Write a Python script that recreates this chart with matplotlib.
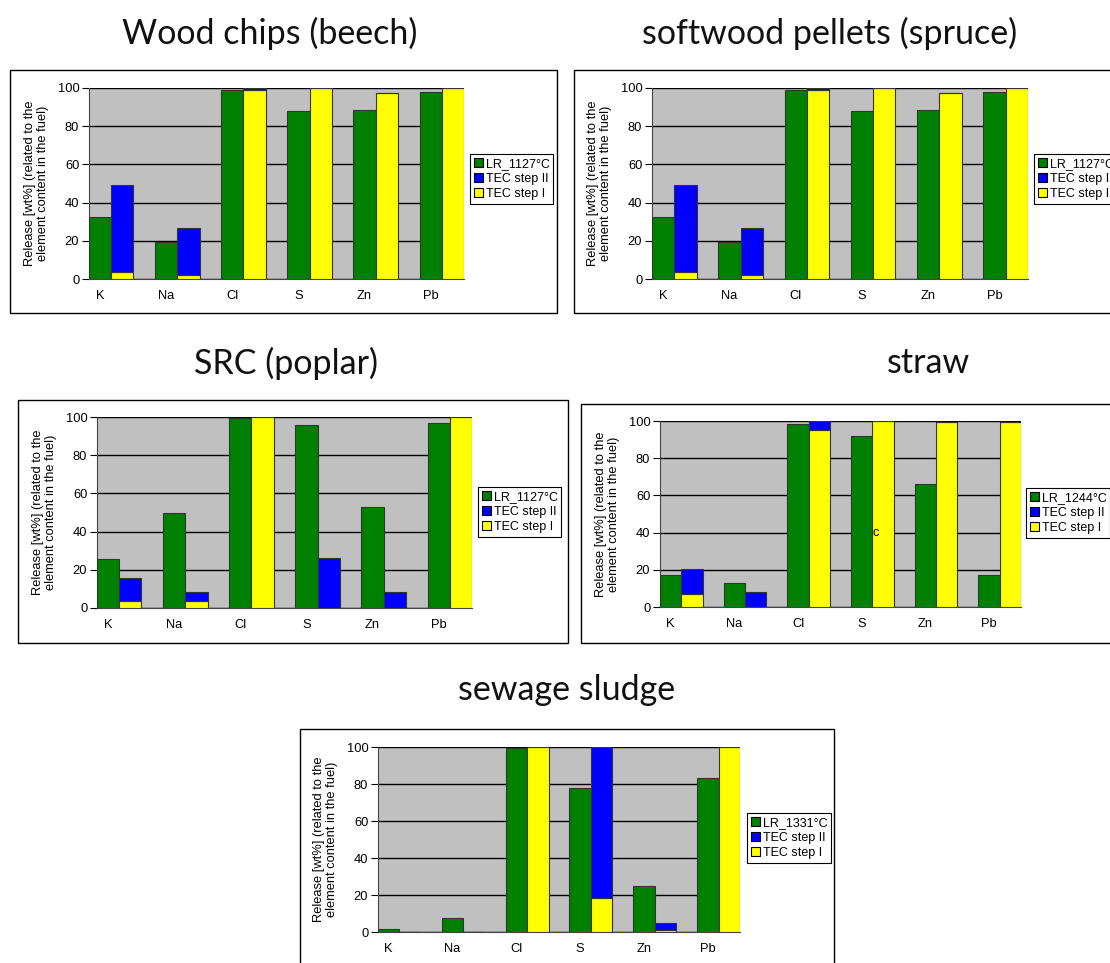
import numpy as np
import matplotlib.pyplot as plt
from matplotlib.patches import Rectangle, Patch

# categories
elements = ['K', 'Na', 'Cl', 'S', 'Zn', 'Pb']

# Wood chips (beech) / softwood pellets (spruce): same values in the picture
wood_lr = [32.5, 19.5, 99.0, 88.0, 88.3, 97.8]
wood_step1 = [3.5, 2.2, 99.2, 100.0, 97.3, 100.0]
wood_total = [49.0, 26.5, 99.8, 100.0, 97.3, 100.0]

# SRC (poplar)
src_lr = [25.5, 50.0, 99.3, 96.0, 52.7, 96.7]
src_step1 = [3.8, 3.5, 100.0, 0.0, 0.0, 100.0]
src_total = [15.5, 8.2, 100.0, 26.3, 8.2, 100.0]

# straw
straw_lr = [17.0, 13.0, 98.2, 92.0, 66.0, 17.2]
straw_step1 = [7.0, 0.0, 95.0, 100.0, 99.6, 99.6]
straw_total = [20.3, 8.0, 100.0, 100.0, 99.6, 99.6]

# sewage sludge
sludge_lr = [1.8, 7.8, 99.7, 78.0, 25.0, 83.5]
sludge_step1 = [0.0, 0.0, 100.0, 18.5, 1.0, 100.0]
sludge_total = [0.0, 0.0, 100.0, 100.0, 5.0, 100.0]

W, H = 1110, 963
fig = plt.figure(figsize=(W / 100, H / 100), dpi=100)
fig.patch.set_facecolor('white')

GREEN = '#008000'
BLUE = '#0000FF'
YELLOW = '#FFFF00'
EDGE = '#333333'
TICKFONT = 'Liberation Sans'
FS = 9.3


def frac(l, t, r, b):
    return [l / W, 1 - b / H, (r - l) / W, (b - t) / H]


def panel(title, tcenter, box, plot, leg, lr_label, lr, step1, total, extra=None):
    # outer frame of the chart object
    l, t, r, b = box
    fig.add_artist(Rectangle((l / W, 1 - b / H), (r - l) / W, (b - t) / H,
                             transform=fig.transFigure, fill=False,
                             edgecolor='black', lw=1.0))
    fig.text(tcenter[0] / W, 1 - tcenter[1] / H, title, ha='center', va='center',
             fontsize=24.5, family='Lato', color='#111111')

    ax = fig.add_axes(frac(*plot))
    ax.set_facecolor('#C0C0C0')
    x = np.arange(len(elements))
    w = 0.336
    step2 = np.array(total) - np.array(step1)
    ax.bar(x, lr, w, color=GREEN, edgecolor=EDGE, lw=0.8, zorder=3)
    ax.bar(x + w, step1, w, color=YELLOW, edgecolor=EDGE, lw=0.8, zorder=3)
    ax.bar(x + w, step2, w, bottom=step1, color=BLUE, edgecolor=EDGE, lw=0.8, zorder=3)

    ax.set_xlim(-w / 2, len(elements) - 1 + 1.5 * w)
    ax.set_ylim(0, 100)
    ax.set_yticks([0, 20, 40, 60, 80, 100])
    ax.yaxis.grid(True, color='black', lw=1.0, zorder=1)
    ax.set_axisbelow(True)
    ax.set_xticks(x)
    ax.set_xticklabels(elements, family=TICKFONT, fontsize=FS)
    ax.tick_params(axis='x', length=0, pad=8)
    ax.tick_params(axis='y', length=5, width=0.8, labelsize=FS, pad=2)
    for lab in ax.get_yticklabels():
        lab.set_family(TICKFONT)
    for s in ['top', 'right']:
        ax.spines[s].set_visible(False)
    ax.spines['left'].set_color('#444444')
    ax.spines['bottom'].set_color('#444444')
    ax.set_ylabel('Release [wt%] (related to the\nelement content in the fuel)',
                  family=TICKFONT, fontsize=FS, labelpad=6, linespacing=1.1)

    if extra is not None:
        ax.text(extra[0], extra[1], extra[2], fontsize=FS, family=TICKFONT,
                va='center', ha='left', zorder=4)

    handles = [Patch(facecolor=GREEN, edgecolor='black', lw=0.8),
               Patch(facecolor=BLUE, edgecolor='black', lw=0.8),
               Patch(facecolor=YELLOW, edgecolor='black', lw=0.8)]
    lg = fig.legend(handles, [lr_label, 'TEC step II', 'TEC step I'],
                    loc='upper left', bbox_to_anchor=(leg[0] / W, 1 - leg[1] / H),
                    bbox_transform=fig.transFigure, borderaxespad=0,
                    fancybox=False, edgecolor='black', framealpha=1,
                    prop={'family': TICKFONT, 'size': 9.0},
                    handlelength=0.75, handleheight=0.75, handletextpad=0.2,
                    labelspacing=0.25, borderpad=0.3)
    lg.get_frame().set_linewidth(0.8)
    return ax


panel('Wood chips (beech)', (270, 33), (10, 70, 557, 313), (89, 88, 464, 279),
      (470, 154), 'LR_1127°C', wood_lr, wood_step1, wood_total)
panel('softwood pellets (spruce)', (830, 33), (574, 70, 1115, 313), (652, 88, 1028, 279),
      (1034, 154), 'LR_1127°C', wood_lr, wood_step1, wood_total)
panel('SRC (poplar)', (286, 363), (18, 400, 568, 643), (97, 417, 472, 608),
      (478, 487), 'LR_1127°C', src_lr, src_step1, src_total)
panel('straw', (928, 363), (581, 404, 1115, 643), (660, 421, 1021, 607),
      (1026, 488), 'LR_1244°C', straw_lr, straw_step1, straw_total,
      extra=(3.17, 40, 'c'))
panel('sewage sludge', (567, 690), (300, 729, 834, 975), (378, 747, 740, 932),
      (747, 813), 'LR_1331°C', sludge_lr, sludge_step1, sludge_total)

plt.savefig('out.png', dpi=100)
